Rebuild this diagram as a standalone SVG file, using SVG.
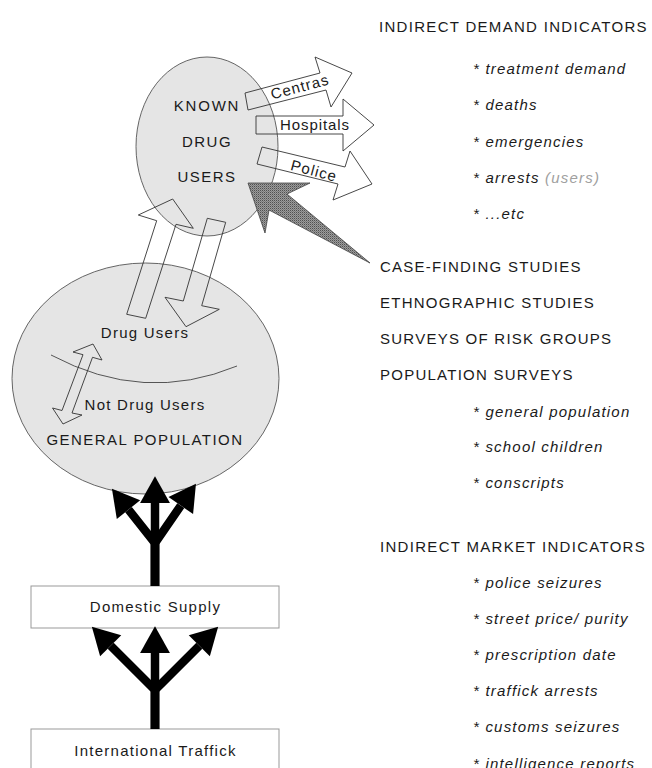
<svg xmlns="http://www.w3.org/2000/svg" width="652" height="768" viewBox="0 0 652 768">
<style>
  text { font-family: "Liberation Sans", Arial, sans-serif; font-size: 15px; fill: #1a1a1a; letter-spacing: 1.25px; }
  .c { text-anchor: middle; }
  .it { font-style: italic; letter-spacing: 1.2px; }
  .muted { fill: #a0a0a0; }
  .pop { fill: #e5e5e5; stroke: #555; stroke-width: 0.9; }
  .box { fill: #fff; stroke: #999; stroke-width: 1; }
  .hollow { fill: none; stroke: #333; stroke-width: 0.9; stroke-linejoin: miter; }
  .thick { fill: none; stroke: #000; stroke-width: 8.5; stroke-linejoin: miter; marker-end: url(#head); }
</style>
<defs>
  <marker id="head" markerUnits="userSpaceOnUse" markerWidth="30" markerHeight="32" viewBox="0 -15 26 30" refX="0" refY="0" orient="auto" overflow="visible">
    <path d="M0,-14 L25,0 L0,14 Z" fill="#000"/>
  </marker>
  <pattern id="dither" width="2" height="2" patternUnits="userSpaceOnUse">
    <rect width="2" height="2" fill="#9c9c9c"/>
    <rect width="1" height="1" fill="#505050"/>
    <rect x="1" y="1" width="1" height="1" fill="#7a7a7a"/>
  </pattern>
</defs>

<g id="node-general-population">
  <ellipse class="pop" cx="145.5" cy="378.5" rx="133.5" ry="115.5"/>
  <path d="M51,355 Q144,404.5 237,366" fill="none" stroke="#444" stroke-width="0.9"/>
  <text class="c" x="145" y="338">Drug Users</text>
  <text class="c" x="145" y="410">Not Drug Users</text>
  <text class="c" x="145" y="445" style="letter-spacing:1.45px">GENERAL POPULATION</text>
</g>

<g id="node-known-users">
  <ellipse class="pop" cx="207" cy="146.5" rx="71" ry="89.5"/>
  <text class="c" x="207" y="111" style="letter-spacing:1.8px">KNOWN</text>
  <text class="c" x="207" y="147" style="letter-spacing:1.5px">DRUG</text>
  <text class="c" x="207" y="182" style="letter-spacing:1.5px">USERS</text>
</g>

<g id="node-domestic-supply">
  <rect class="box" x="31" y="586" width="248" height="42"/>
  <text class="c" x="155.5" y="612">Domestic Supply</text>
</g>

<g id="node-international-traffick">
  <rect class="box" x="31" y="729" width="248" height="60"/>
  <text class="c" x="155.5" y="756">International Traffick</text>
</g>

<g id="connectors">
  <!-- flows between population and known users -->
  <polygon class="hollow" points="172.7,199 193.3,228.3 176,224.3 145.7,318.3 126.7,314.3 156.7,220.7 138.3,215"/>
  <polygon class="hollow" points="207.3,218.3 225.7,222.3 201.7,305.7 219.3,309.3 186,326.7 165,297.3 183.3,301"/>
  <!-- double arrow drug users / not drug users -->
  <polygon class="hollow" points="93,344 102,360 92.5,357.3 72,413 82,415 63,424 52.5,408 62,410.5 83,354.7 73,352"/>
  <!-- outgoing indicator arrows -->
  <polygon class="hollow" points="245,93 320,73 315,57 352,73 331,107 326,90 248,110"/>
  <polygon class="hollow" points="256,116 343,116 343,99 374,125 343,151 343,134 256,134"/>
  <polygon class="hollow" points="262,147 345,167 350,151 372,184 333,200 338,184 257,164"/>
  <text transform="translate(300,87) rotate(-15)" class="c" x="0" y="5" style="letter-spacing:1.1px">Centras</text>
  <text class="c" x="315" y="130" style="letter-spacing:0.9px">Hospitals</text>
  <text transform="translate(314,171) rotate(15)" class="c" x="0" y="5" style="letter-spacing:1.1px">Police</text>
  <!-- case-finding arrow -->
  <polygon points="248,183 310,183 287,194 370,263 269,210 265,233" fill="url(#dither)" stroke="#444" stroke-width="0.8"/>
  <!-- supply trees -->
  <path class="thick" d="M155,729 L155,653"/>
  <path class="thick" d="M155,729 L155,690 L110.7,645.7"/>
  <path class="thick" d="M155,729 L155,690 L199.3,645.7"/>
  <path class="thick" d="M155,586 L155,503"/>
  <path class="thick" d="M155,586 L155,543 L128.5,509.6"/>
  <path class="thick" d="M155,586 L155,543 L180.8,505.6"/>
</g>

<g id="demand-indicators">
  <text x="379" y="32" style="letter-spacing:1.3px">INDIRECT DEMAND INDICATORS</text>
  <text class="it" x="473" y="74">* treatment demand</text>
  <text class="it" x="473" y="110">* deaths</text>
  <text class="it" x="473" y="147">* emergencies</text>
  <text class="it" x="473" y="183">* arrests <tspan class="muted">(users)</tspan></text>
  <text class="it" x="473" y="219">* ...etc</text>
</g>

<g id="studies">
  <text x="380" y="272">CASE-FINDING STUDIES</text>
  <text x="380" y="308">ETHNOGRAPHIC STUDIES</text>
  <text x="380" y="344">SURVEYS OF RISK GROUPS</text>
  <text x="380" y="380">POPULATION SURVEYS</text>
  <text class="it" x="473" y="417">* general population</text>
  <text class="it" x="473" y="452">* school children</text>
  <text class="it" x="473" y="488">* conscripts</text>
</g>

<g id="market-indicators">
  <text x="380" y="552" style="letter-spacing:1.3px">INDIRECT MARKET INDICATORS</text>
  <text class="it" x="473" y="588">* police seizures</text>
  <text class="it" x="473" y="624">* street price/ purity</text>
  <text class="it" x="473" y="660">* prescription date</text>
  <text class="it" x="473" y="696">* traffick arrests</text>
  <text class="it" x="473" y="732">* customs seizures</text>
  <text class="it" x="473" y="769">* intelligence reports</text>
</g>
</svg>
